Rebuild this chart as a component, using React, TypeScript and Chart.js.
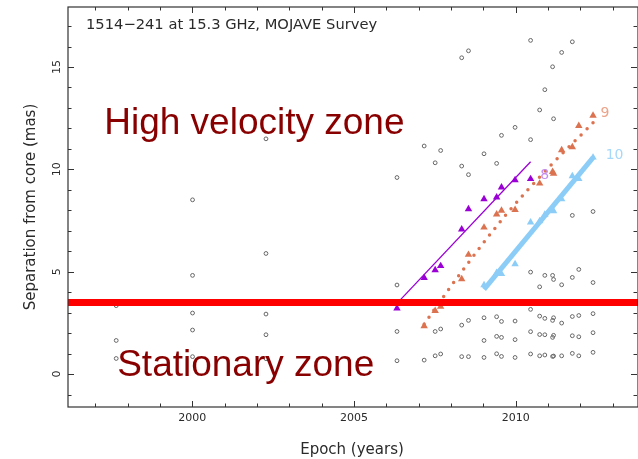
import { useEffect, useRef } from 'react';
import { Chart, registerables } from 'chart.js';

Chart.register(...registerables);

// ---- text ----
const TITLE = '1514\u2212241 at 15.3 GHz, MOJAVE Survey';
const X_TITLE = 'Epoch (years)';
const Y_TITLE = 'Separation from core (mas)';
const ZONE_HIGH = 'High velocity zone';
const ZONE_STATIONARY = 'Stationary zone';

// ---- axes ----
const xRange = [1996.16, 2013.78];
const yRange = [-1.61, 17.93];
const xMajorTicks = [2000, 2005, 2010];
const yMajorTicks = [0, 5, 10, 15];

// ---- all jet components, per epoch (open circles) ----
const ringEpochs = [
  1997.65, 2000.01, 2002.28, 2006.33, 2007.17, 2007.51, 2007.68, 2008.33,
  2008.54, 2009.02, 2009.41, 2009.56, 2009.98, 2010.46, 2010.74, 2010.9,
  2011.14, 2011.17, 2011.42, 2011.75, 2011.95, 2012.39,
];
const ringSeparations = [
  [3.34, 1.64, 0.76],
  [8.51, 4.82, 2.98, 2.15, 0.85],
  [11.49, 5.89, 2.93, 1.92, 0.75],
  [9.6, 4.35, 2.08, 0.65],
  [11.14, 0.68],
  [10.32, 2.08, 0.89],
  [10.92, 2.2, 0.98],
  [15.45, 10.16, 2.39, 0.85],
  [15.79, 9.74, 2.62, 0.85],
  [10.76, 2.75, 1.64, 0.81],
  [10.29, 2.8, 1.84, 0.99],
  [11.66, 2.57, 1.79, 0.86],
  [12.05, 2.59, 1.68, 0.81],
  [16.3, 11.45, 4.98, 3.16, 2.07, 0.98],
  [12.9, 4.26, 2.83, 1.93, 0.89],
  [13.89, 4.82, 2.72, 1.92, 0.93],
  [15.01, 4.82, 2.62, 1.79, 0.86],
  [12.47, 4.62, 2.75, 1.89, 0.88],
  [15.71, 4.36, 2.49, 0.89],
  [16.23, 7.75, 4.72, 2.81, 1.87, 1.01],
  [5.11, 2.86, 1.82, 0.89],
  [7.94, 4.47, 2.95, 2.02, 1.06],
];

// ---- component 8 ----
const c8Epochs = [2006.33, 2007.17, 2007.51, 2007.68, 2008.33, 2008.54, 2009.02, 2009.41, 2009.56, 2009.98, 2010.46];
const c8Seps = [3.21, 4.7, 5.08, 5.28, 7.07, 8.06, 8.55, 8.63, 9.12, 9.48, 9.53];
const c8FitEpochs = [2006.33, 2010.46];
const c8FitSeps = [3.45, 10.37];

// ---- component 9 ----
const c9Epochs = [
  2007.17, 2007.51, 2007.68, 2008.33, 2008.54, 2009.02, 2009.41, 2009.56,
  2009.98, 2010.74, 2011.14, 2011.17, 2011.42, 2011.75, 2011.95, 2012.39,
];
const c9Seps = [2.34, 3.09, 3.29, 4.64, 5.83, 7.16, 7.8, 7.99, 8.02, 9.31, 9.88, 9.79, 10.94, 11.09, 12.13, 12.63];
const c9FitEpochs = [2007.17, 2007.51, 2008.48, 2009.72, 2011.06, 2012.27, 2012.39];
const c9FitSeps = [2.43, 3.21, 5.32, 7.82, 10.16, 12.08, 12.28];

// ---- component 10 ----
const c10Epochs = [2009.02, 2009.41, 2009.56, 2009.98, 2010.46, 2010.74, 2010.9, 2011.14, 2011.17, 2011.42, 2011.75, 2011.95, 2012.39];
const c10Seps = [4.35, 4.94, 4.89, 5.37, 7.41, 7.47, 7.79, 8.01, 7.96, 8.55, 9.67, 9.53, 10.58];
const c10FitEpochs = [2009.02, 2012.39];
const c10FitSeps = [4.14, 10.57];

// boundary between stationary and moving features
const stationaryLimit = 3.49;

const pts = (xs: number[], ys: number[]) => xs.map((x, i) => ({ x, y: ys[i] }));

const WIDTH = 638;
const HEIGHT = 459;
const FONT = '"DejaVu Sans", sans-serif';
const INK = '#2a2a2a';

const COLOR_8 = '#9a00d6';
const COLOR_9 = '#dc7350';
const COLOR_10 = '#8ccdf8';

const decorations = {
  id: 'decorations',
  afterDatasetsDraw(chart: any) {
    const { ctx, chartArea: a, scales } = chart;
    const xs = scales.x;
    const ys = scales.y;
    ctx.save();

    // stationary-zone boundary
    const yr = ys.getPixelForValue(stationaryLimit);
    ctx.strokeStyle = '#ff0000';
    ctx.lineWidth = 7;
    ctx.beginPath();
    ctx.moveTo(a.left, yr);
    ctx.lineTo(a.right, yr);
    ctx.stroke();

    // frame
    ctx.strokeStyle = '#333';
    ctx.lineWidth = 1.2;
    ctx.strokeRect(a.left, a.top, a.right - a.left, a.bottom - a.top);

    // inward ticks, major every 5, minor every 1
    ctx.lineWidth = 1;
    for (let v = Math.ceil(xRange[0]); v <= Math.floor(xRange[1]); v++) {
      const len = v % 5 === 0 ? 6 : 3.5;
      const px = Math.round(xs.getPixelForValue(v)) + 0.5;
      ctx.beginPath();
      ctx.moveTo(px, a.bottom);
      ctx.lineTo(px, a.bottom - len);
      ctx.moveTo(px, a.top);
      ctx.lineTo(px, a.top + len);
      ctx.stroke();
    }
    for (let v = Math.ceil(yRange[0]); v <= Math.floor(yRange[1]); v++) {
      const len = v % 5 === 0 ? 6 : 3.5;
      const py = Math.round(ys.getPixelForValue(v)) + 0.5;
      ctx.beginPath();
      ctx.moveTo(a.left, py);
      ctx.lineTo(a.left + len, py);
      ctx.moveTo(a.right - 1, py);
      ctx.lineTo(a.right - 1 - len, py);
      ctx.stroke();
    }

    // tick labels
    ctx.fillStyle = INK;
    ctx.font = `11px ${FONT}`;
    ctx.textAlign = 'center';
    ctx.textBaseline = 'middle';
    xMajorTicks.forEach((v) => ctx.fillText(String(v), xs.getPixelForValue(v), a.bottom + 11));
    yMajorTicks.forEach((v) => {
      ctx.save();
      ctx.translate(a.left - 11, ys.getPixelForValue(v));
      ctx.rotate(-Math.PI / 2);
      ctx.fillText(String(v), 0, 0);
      ctx.restore();
    });

    // axis titles
    ctx.font = `15px ${FONT}`;
    ctx.fillText(X_TITLE, (a.left + a.right) / 2 - 1, a.bottom + 43);
    ctx.save();
    ctx.translate(a.left - 37, (a.top + a.bottom) / 2);
    ctx.rotate(-Math.PI / 2);
    ctx.fillText(Y_TITLE, 0, 0);
    ctx.restore();

    // plot title inside the frame
    ctx.font = `14.7px ${FONT}`;
    ctx.textAlign = 'left';
    ctx.fillText(TITLE, a.left + 18, a.top + 18);

    // component numbers
    ctx.font = `14px ${FONT}`;
    ctx.fillStyle = '#c58cee';
    ctx.fillText('8', xs.getPixelForValue(2010.76), ys.getPixelForValue(9.72));
    ctx.fillStyle = '#eba48a';
    ctx.fillText('9', xs.getPixelForValue(2012.62), ys.getPixelForValue(12.75));
    ctx.fillStyle = '#a6d8fa';
    ctx.fillText('10', xs.getPixelForValue(2012.78), ys.getPixelForValue(10.7));

    // zone annotations
    ctx.fillStyle = '#880000';
    ctx.font = `37px "Liberation Sans", Arial, sans-serif`;
    ctx.textBaseline = 'alphabetic';
    ctx.fillText(ZONE_HIGH, xs.getPixelForValue(1997.28), ys.getPixelForValue(11.72));
    ctx.fillText(ZONE_STATIONARY, xs.getPixelForValue(1997.68), ys.getPixelForValue(-0.1));

    ctx.restore();
  },
};

export default function App() {
  const canvasRef = useRef<HTMLCanvasElement | null>(null);

  useEffect(() => {
    document.body.style.margin = '0';
    document.body.style.overflow = 'hidden';
    const canvas = canvasRef.current;
    if (!canvas) return;

    const rings = ringEpochs.flatMap((x, i) => ringSeparations[i].map((y) => ({ x, y })));

    const chart = new Chart(canvas, {
      type: 'scatter',
      data: {
        datasets: [
          {
            label: 'comp 8',
            data: pts(c8Epochs, c8Seps),
            pointStyle: 'triangle',
            pointRadius: 4.3,
            backgroundColor: COLOR_8,
            borderColor: COLOR_8,
            borderWidth: 0,
            order: 1,
          },
          {
            label: 'comp 9',
            data: pts(c9Epochs, c9Seps),
            pointStyle: 'triangle',
            pointRadius: 4.3,
            backgroundColor: COLOR_9,
            borderColor: COLOR_9,
            borderWidth: 0,
            order: 2,
          },
          {
            label: 'comp 10',
            data: pts(c10Epochs, c10Seps),
            pointStyle: 'triangle',
            pointRadius: 4.3,
            backgroundColor: COLOR_10,
            borderColor: COLOR_10,
            borderWidth: 0,
            order: 3,
          },
          {
            label: 'fit 8',
            data: pts(c8FitEpochs, c8FitSeps),
            showLine: true,
            pointRadius: 0,
            borderColor: COLOR_8,
            borderWidth: 1.3,
            order: 4,
          },
          {
            label: 'fit 9',
            data: pts(c9FitEpochs, c9FitSeps),
            showLine: true,
            pointRadius: 0,
            borderColor: COLOR_9,
            borderWidth: 3.5,
            borderDash: [0, 8.5],
            borderCapStyle: 'round',
            cubicInterpolationMode: 'monotone',
            order: 5,
          },
          {
            label: 'fit 10',
            data: pts(c10FitEpochs, c10FitSeps),
            showLine: true,
            pointRadius: 0,
            borderColor: COLOR_10,
            borderWidth: 5,
            order: 6,
          },
          {
            label: 'all components',
            data: rings,
            pointStyle: 'circle',
            pointRadius: 1.9,
            backgroundColor: 'rgba(0,0,0,0)',
            borderColor: '#666',
            borderWidth: 1,
            order: 10,
          },
        ],
      },
      options: {
        animation: false,
        responsive: false,
        devicePixelRatio: 1,
        layout: { autoPadding: false, padding: { left: 68, top: 7, right: 0, bottom: 52 } },
        plugins: { legend: { display: false }, tooltip: { enabled: false } },
        scales: {
          x: { type: 'linear', min: xRange[0], max: xRange[1], display: false },
          y: { type: 'linear', min: yRange[0], max: yRange[1], display: false },
        },
      },
      plugins: [decorations],
    } as any);

    return () => chart.destroy();
  }, []);

  return (
    <div style={{ position: 'absolute', left: 0, top: 0, width: WIDTH, height: HEIGHT, background: '#fff' }}>
      <canvas ref={canvasRef} width={WIDTH} height={HEIGHT} style={{ display: 'block', width: WIDTH, height: HEIGHT }} />
    </div>
  );
}
